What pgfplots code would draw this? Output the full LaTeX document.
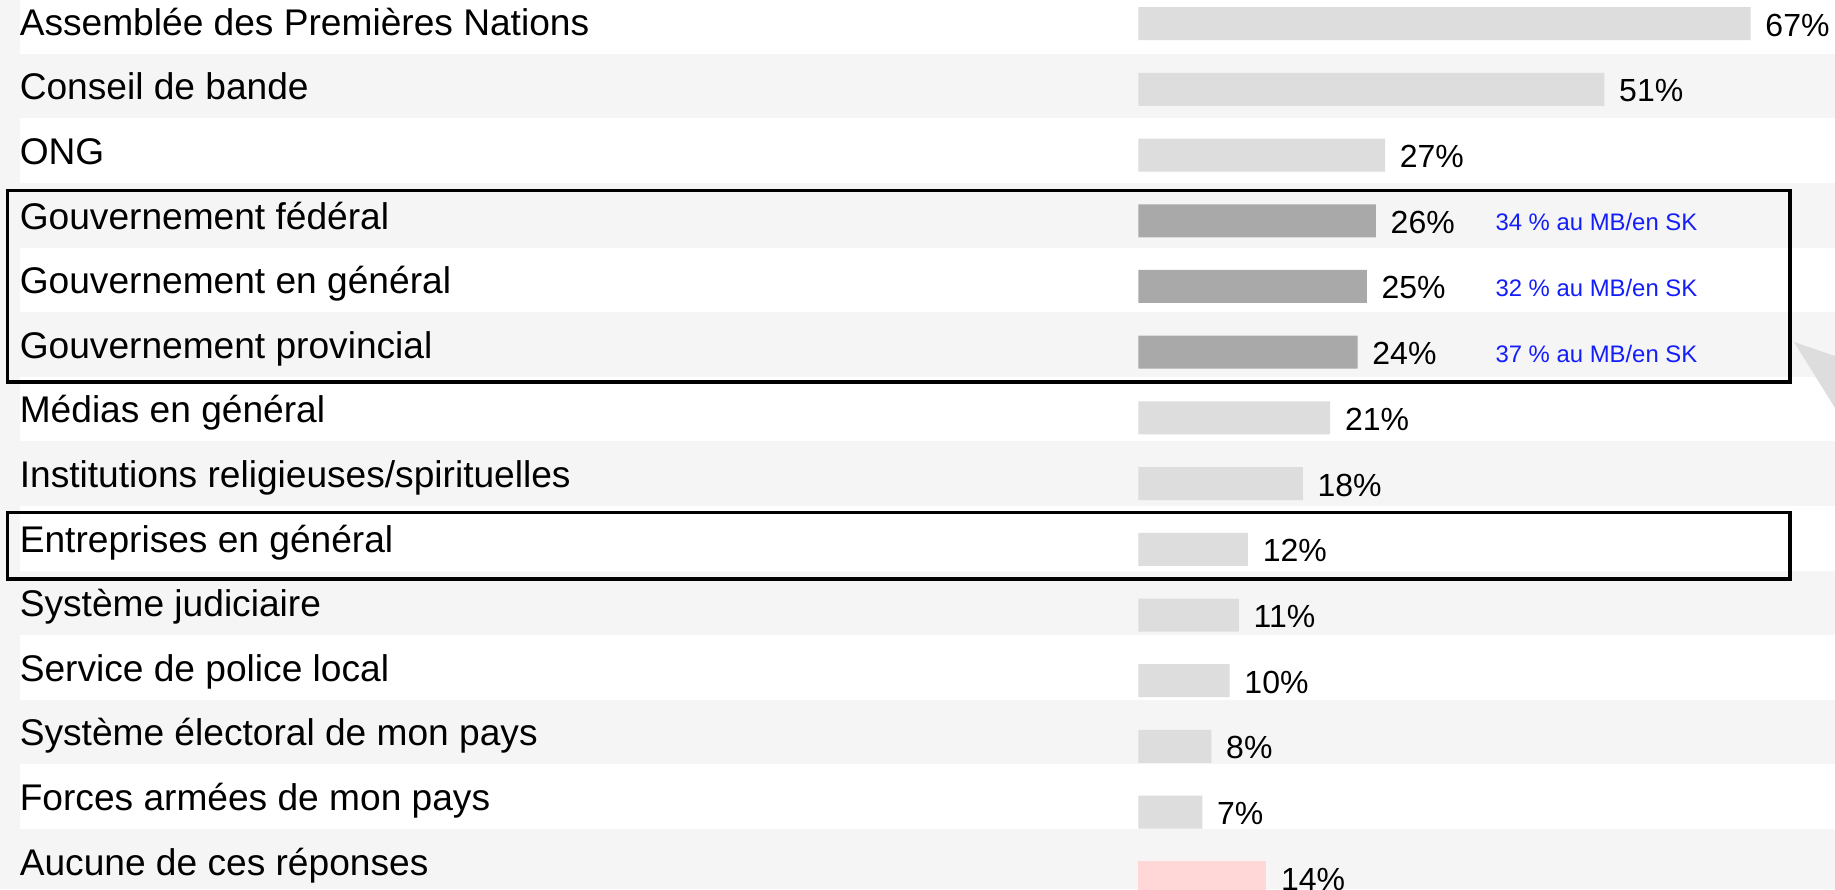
\documentclass[border=0pt]{standalone}
\usepackage{pgfplots}
\pgfplotsset{compat=1.18}
\usepackage{fontspec}
\setmainfont{Liberation Sans}
\definecolor{stripe}{HTML}{F5F5F5}
\definecolor{barlight}{HTML}{DDDDDD}
\definecolor{bardark}{HTML}{A9A9A9}
\definecolor{barpink}{HTML}{FFD7D7}
\definecolor{noteblue}{RGB}{20,30,250}
\begin{document}
\begin{tikzpicture}
\begin{axis}[
  set layers=standard,
  scale only axis, width=458.75pt, height=222.25pt,
  xmin=-124.54, xmax=76.23, ymin=0, ymax=889, y dir=reverse,
  axis line style={draw=none}, major tick length=0pt, xtick=\empty,
  ytick={21.5,86.1,150.7,215.3,279.9,344.5,409.1,473.7,538.3,602.9,667.5,732.1,796.7,861.3},
  yticklabels={Assemblée des Premières Nations,Conseil de bande,ONG,Gouvernement fédéral,Gouvernement en général,Gouvernement provincial,Médias en général,Institutions religieuses/spirituelles,Entreprises en général,Système judiciaire,Service de police local,Système électoral de mon pays,Forces armées de mon pays,Aucune de ces réponses},
  yticklabel style={anchor=base west, inner sep=0pt, xshift=4.75pt, yshift=-3.45pt, font=\fontsize{9.28}{11}\selectfont},
  xbar, bar width=33,
  point meta=x,
  nodes near coords={\pgfmathprintnumber{\pgfplotspointmeta}\%},
  every node near coord/.append style={anchor=base west, inner sep=0pt, xshift=3.5pt, yshift=-3.1pt, font=\fontsize{8}{10}\selectfont, text=black},
  /pgf/number format/assume math mode=true,
]
\begin{pgfonlayer}{axis background}
\fill[stripe] (axis cs:-124.54,0) rectangle (axis cs:76.23,889);
\pgfplotsinvokeforeach{0,2,4,6,8,10,12}{
  \fill[white] (axis cs:-122.35,{-10.8+64.6*#1}) rectangle (axis cs:76.23,{53.8+64.6*#1});
}
\fill[barlight] (axis cs:71.74,342) -- (axis cs:76.23,356) -- (axis cs:76.23,408) -- cycle;
\end{pgfonlayer}

\addplot[fill=barlight, draw=none, bar shift=0pt] table[x=v, y=pos] {
v pos
67 23.7
51 89.4
27 155.1
21 417.9
18 483.6
12 549.3
11 615.0
10 680.7
8 746.4
7 812.1
};
\addplot[fill=bardark, draw=none, bar shift=0pt] table[x=v, y=pos] {
v pos
26 220.8
25 286.5
24 352.2
};
\addplot[fill=barpink, draw=none, bar shift=0pt] table[x=v, y=pos] {
v pos
14 877.8
};

\draw[line width=0.9pt, black] (axis cs:-123.74,190.7) rectangle (axis cs:71.27,382);
\draw[line width=0.9pt, black] (axis cs:-123.74,512.3) rectangle (axis cs:71.27,579.2);

\begin{scope}[every node/.style={anchor=base west, inner sep=0pt, text=noteblue, font=\fontsize{5.97}{7}\selectfont}]
\node at (axis cs:39.0,230.8) {34 \% au MB/en SK};
\node at (axis cs:39.0,296.7) {32 \% au MB/en SK};
\node at (axis cs:39.0,362.7) {37 \% au MB/en SK};
\end{scope}
\end{axis}
\pgfresetboundingbox
\path[use as bounding box] (current axis.south west) rectangle (current axis.north east);
\end{tikzpicture}
\end{document}
